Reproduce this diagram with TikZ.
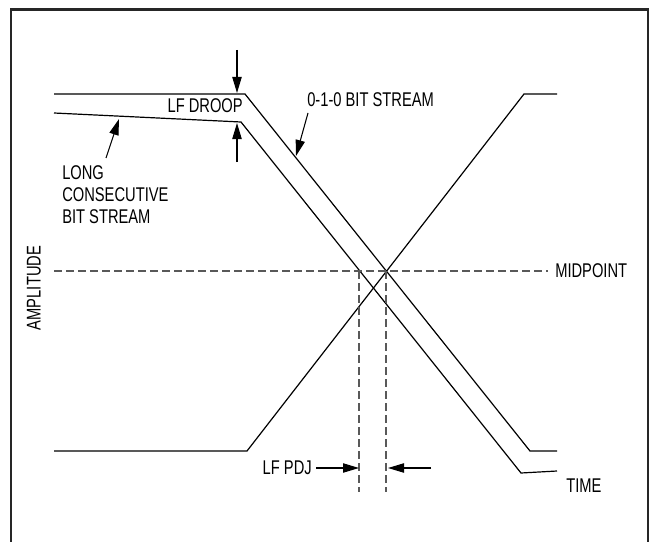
\documentclass[tikz,border=0pt]{standalone}
\usepackage{fontspec}
\setmainfont[FakeStretch=0.74]{Liberation Sans}
\usetikzlibrary{arrows.meta}

\begin{document}
\begin{tikzpicture}[x=0.75pt, y=-0.75pt,
  trace/.style={black, line width=0.9pt},
  guide/.style={black!65, line width=0.9pt, dash pattern=on 6pt off 3pt},
  callout/.style={black, line width=0.8pt, -{Triangle[length=12pt, width=7pt]}},
  lbl/.style={font=\fontsize{14.9}{16.5}\selectfont, inner sep=0pt}]

\useasboundingbox (0,0) rectangle (650,542);
\draw [line width=2pt, black!85] (11,542) -- (11,9.5) -- (648,9.5) -- (648,542);

% 0-1-0 bit stream
\coordinate (s1) at (54,94);
\coordinate (s2) at (245,94);
\coordinate (s3) at (530,451);
\coordinate (s4) at (557,451);
% long consecutive bit stream
\coordinate (d1) at (54,113);
\coordinate (d2) at (241,122);
\coordinate (d3) at (521,473);
\coordinate (d4) at (557,471);
% rising edge
\coordinate (r1) at (54,451);
\coordinate (r2) at (247,451);
\coordinate (r3) at (524,94);
\coordinate (r4) at (557,94);

\draw [trace] (s1) -- (s2) -- (s3) -- (s4);
\draw [trace] (d1) -- (d2) -- (d3) -- (d4);
\draw [trace] (r1) -- (r2) -- (r3) -- (r4);

% midpoint and jitter guides
\coordinate (m1) at (54,271);
\coordinate (m2) at (548,271);
\coordinate (j1) at (359,271);
\coordinate (j1b) at (359,492);
\coordinate (j2) at (386,271);
\coordinate (j2b) at (386,492);
\draw [guide] (m1) -- (m2);
\draw [guide] (j1) -- (j1b);
\draw [guide] (j2) -- (j2b);

% labels
\node [lbl, anchor=base east] (droop) at (243,113) {LF DROOP};
\node [lbl, anchor=base west] (stream) at (307,107) {0-1-0 BIT STREAM};
\node [lbl, anchor=base west] (long1) at (62,179) {LONG};
\node [lbl, anchor=base west] (long2) at (62,201) {CONSECUTIVE};
\node [lbl, anchor=base west] (long3) at (62,223) {BIT STREAM};
\node [lbl, rotate=90] (amp) at (34,288) {AMPLITUDE};
\node [lbl, anchor=base west] (mid) at (555,277) {MIDPOINT};
\node [lbl, anchor=base east] (pdj) at (312,474) {LF PDJ};
\node [lbl, anchor=base west] (time) at (566,492) {TIME};

% callouts
\coordinate (dt) at (237,50);
\coordinate (dtip) at (237,93);
\coordinate (ub) at (237,162);
\coordinate (utip) at (237,123);
\draw [callout] (dt) -- (dtip);
\draw [callout] (ub) -- (utip);

\coordinate (st) at (308,113);
\coordinate (stip) at (296,156);
\draw [callout] (st) -- (stip);

\coordinate (lt) at (106,158);
\coordinate (ltip) at (119,119);
\draw [callout] (lt) -- (ltip);

\coordinate (pl) at (316,468);
\coordinate (pltip) at (359,468);
\coordinate (pr) at (431,468);
\coordinate (prtip) at (388,468);
\draw [callout] (pl) -- (pltip);
\draw [callout] (pr) -- (prtip);

\end{tikzpicture}
\end{document}
